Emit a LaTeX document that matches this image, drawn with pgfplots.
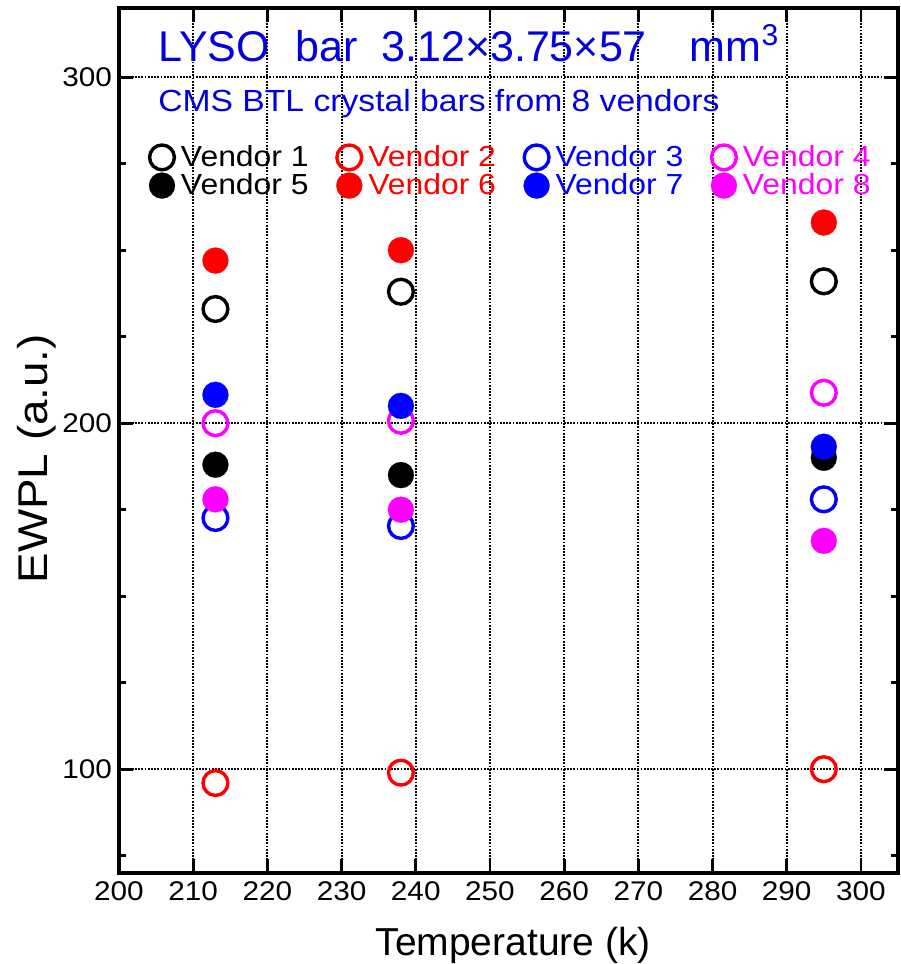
\documentclass[border=0pt]{standalone}
\usepackage{fontspec}
\setmainfont{Liberation Sans}
\newfontfamily\wide{Liberation Sans}[FakeStretch=1.1]
\usepackage{pgfplots}
\pgfplotsset{compat=1.18}

\definecolor{vblack}{RGB}{0,0,0}
\definecolor{vred}{RGB}{255,0,0}
\definecolor{vblue}{RGB}{0,0,255}
\definecolor{vmag}{RGB}{255,0,255}
\definecolor{ttl}{RGB}{0,0,225}

\pgfplotsset{
  openmark/.style={mark=o, mark size=6.2pt, mark options={draw=#1, line width=1.7pt, fill=none}, color=#1},
  fullmark/.style={mark=*, mark size=6.5pt, mark options={draw=#1, fill=#1, line width=0.1pt}, color=#1},
}

\begin{document}
\begin{tikzpicture}
\begin{axis}[
  scale only axis, width=389.5pt, height=432.5pt,
  xmin=200, xmax=305, ymin=70, ymax=320,
  xtick={200,210,...,300}, ytick={100,200,300},
  minor ytick={75,125,150,175,225,250,275},
  tick align=inside, major tick length=7pt, minor tick length=3.5pt,
  every tick/.style={black, line width=1.4pt},
  axis line style={line width=1.6pt},
  grid=major,
  major grid style={black, line width=1pt, dash pattern=on 0.9pt off 0.7pt},
  /pgf/number format/assume math mode=true,
  /pgf/number format/1000 sep={},
  tick label style={font=\wide\fontsize{13.5}{15}\selectfont},
  xticklabel style={yshift=-1pt},
  xlabel={Temperature (k)},
  xlabel style={font=\fontsize{19.5}{22}\selectfont, at={(axis description cs:0.506,0)}, anchor=base, yshift=-41pt},
  ylabel={EWPL (a.u.)},
  ylabel style={font=\wide\fontsize{20.8}{23}\selectfont, at={(axis description cs:-0.0924,0.479)}, anchor=base},
  only marks,
  legend image code/.code={\draw[#1] plot coordinates {(0pt,0pt)};},
  legend columns=4,
  legend cell align=left,
  legend style={at={(axis description cs:0,1)}, anchor=north west,
    xshift=15pt, yshift=-68.5pt, draw=none, fill=none, inner sep=0pt, outer sep=0pt,
    row sep=1.4pt,
    font=\wide\fontsize{14.5}{17}\selectfont,
    nodes={inner sep=0pt},
    /tikz/every odd column/.append style={column sep=3pt},
    /tikz/every even column/.append style={column sep=13.8pt}},
]
% open circles: vendors 1-4
\addplot[openmark=vblack] coordinates {(213,233) (238,238) (295,241)};
\addlegendentry{\textcolor{vblack}{Vendor 1}}
\addplot[openmark=vred] coordinates {(213,96) (238,99) (295,100)};
\addlegendentry{\textcolor{vred}{Vendor 2}}
\addplot[openmark=vblue] coordinates {(213,172.6) (238,170.3) (295,178)};
\addlegendentry{\textcolor{vblue}{Vendor 3}}
\addplot[openmark=vmag] coordinates {(213,200) (238,200.7) (295,208.8)};
\addlegendentry{\textcolor{vmag}{Vendor 4}}
% filled circles: vendors 5-8
\addplot[fullmark=vblack] coordinates {(213,188) (238,185) (295,190)};
\addlegendentry{\textcolor{vblack}{Vendor 5}}
\addplot[fullmark=vred] coordinates {(213,247) (238,250) (295,258)};
\addlegendentry{\textcolor{vred}{Vendor 6}}
\addplot[fullmark=vblue] coordinates {(213,208.2) (238,205) (295,193.2)};
\addlegendentry{\textcolor{vblue}{Vendor 7}}
\addplot[fullmark=vmag] coordinates {(213,178) (238,175) (295,166)};
\addlegendentry{\textcolor{vmag}{Vendor 8}}

\node[anchor=base west, text=ttl, inner sep=0pt, font=\fontsize{21.5}{24}\selectfont]
  at (axis description cs:0.050,0.9387)
  {LYSO\hspace{0.6em}bar\hspace{0.55em}3.12×3.75×57\hspace{1em}mm\textsuperscript{3}};
\node[anchor=base west, text=ttl, inner sep=0pt, font=\wide\fontsize{15.3}{18}\selectfont]
  at (axis description cs:0.050,0.8798)
  {CMS BTL crystal bars from 8 vendors};
\end{axis}
\pgfresetboundingbox
\useasboundingbox (-59.5pt,-45.5pt) rectangle (390.5pt,436.5pt);
\end{tikzpicture}
\end{document}
